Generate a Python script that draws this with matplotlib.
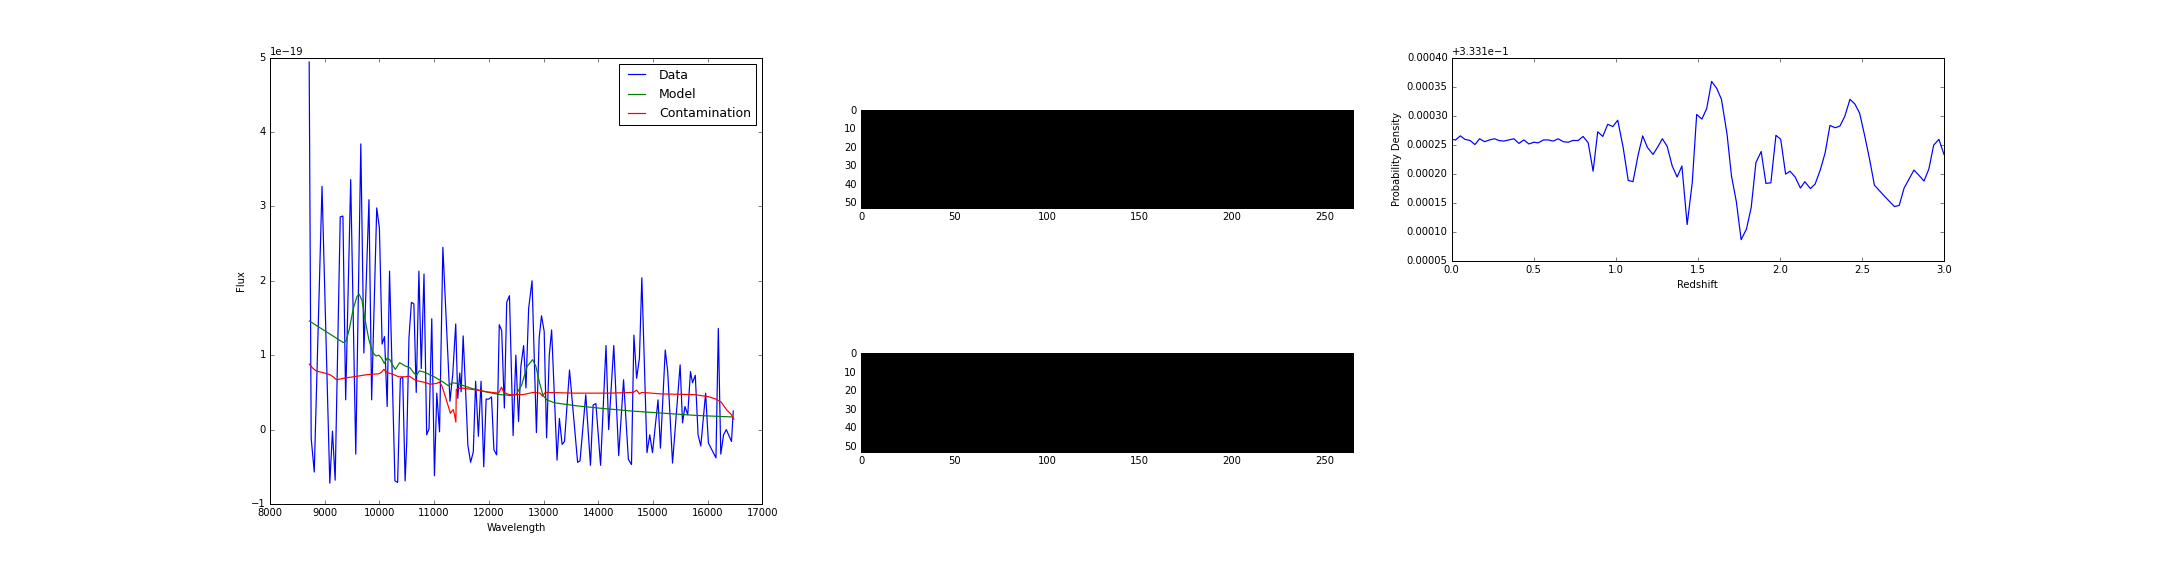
import matplotlib
matplotlib.use("Agg")
import matplotlib.pyplot as plt
import numpy as np

plt.style.use("classic")
plt.rcParams["font.size"] = 10
plt.rcParams["savefig.facecolor"] = "white"
plt.rcParams["figure.facecolor"] = "white"

# spectrum: wavelength (A) and flux (units of 1e-19)
data_wave = [8716, 8753, 8809, 8951, 9093, 9142, 9191, 9284, 9333, 9383,
             9475, 9568, 9660, 9716, 9809, 9858, 9951, 10000, 10049, 10093,
             10142, 10185, 10284, 10333, 10383, 10426, 10470, 10500, 10540, 10585,
             10630, 10673, 10722, 10765, 10815, 10864, 10907, 10957, 11006, 11049,
             11099, 11160, 11290, 11340, 11395, 11432, 11469, 11494, 11531, 11580,
             11617, 11667, 11716, 11759, 11809, 11858, 11907, 11951, 12000, 12049,
             12093, 12142, 12191, 12235, 12284, 12327, 12377, 12444, 12494, 12543,
             12586, 12636, 12679, 12728, 12790, 12870, 12920, 12963, 13012, 13056,
             13105, 13148, 13247, 13290, 13340, 13383, 13475, 13623, 13667, 13772,
             13858, 13907, 13957, 14043, 14142, 14191, 14284, 14374, 14463, 14551,
             14608, 14652, 14702, 14753, 14797, 14891, 14942, 14992, 15093, 15137,
             15225, 15270, 15358, 15497, 15541, 15585, 15636, 15686, 15724, 15774,
             15825, 15875, 15963, 16014, 16152, 16195, 16240, 16291, 16341, 16436,
             16468]
data_flux = [4.94, -0.12, -0.57, 3.27, -0.72, -0.02, -0.68, 2.86, 2.87, 0.40,
             3.36, -0.33, 3.84, 1.03, 3.09, 0.40, 2.98, 2.71, 1.15, 1.25,
             0.31, 2.13, -0.69, -0.71, 0.69, 0.70, -0.69, -0.16, 1.23, 1.71,
             1.69, 0.50, 2.13, 0.82, 2.09, -0.07, 0.01, 1.49, -0.62, 0.49,
             -0.03, 2.45, 0.38, 0.74, 1.42, 0.42, 0.76, 0.51, 1.26, 0.45,
             -0.21, -0.44, -0.30, 0.65, -0.09, 0.65, -0.50, 0.41, 0.41, 0.44,
             -0.27, -0.34, 1.41, 1.33, 0.29, 1.71, 1.80, -0.08, 1.00, 0.11,
             0.85, 1.13, 0.56, 1.63, 2.00, -0.04, 1.23, 1.53, 1.32, -0.11,
             1.00, 1.34, -0.41, 0.15, -0.20, -0.16, 0.80, -0.44, -0.42, 0.47,
             -0.48, 0.33, 0.35, -0.48, 1.13, 0.00, 1.13, -0.35, 0.67, -0.40,
             -0.47, 1.27, 0.69, 0.96, 2.04, -0.31, -0.07, -0.31, 0.40, -0.25,
             1.07, 0.78, -0.45, 0.87, 0.09, 0.31, 0.20, 0.78, 0.63, 0.73,
             -0.07, -0.22, 0.49, -0.18, -0.38, 1.36, -0.33, -0.07, 0.00, -0.16,
             0.25]

model_wave = [8719, 9340, 9390, 9450, 9520, 9590, 9630, 9680, 9750, 9810,
              9880, 9940, 9990, 10040, 10090, 10140, 10190, 10240, 10290, 10370,
              10460, 10560, 10630, 10680, 10730, 10830, 11000, 11140, 11260, 11330,
              11420, 11700, 12000, 12200, 12400, 12500, 12600, 12700, 12800, 12860,
              12930, 12990, 13060, 13200, 13600, 14000, 14600, 15200, 15800, 16460]
model_flux = [1.46, 1.17, 1.19, 1.35, 1.62, 1.79, 1.82, 1.74, 1.43, 1.20,
              1.03, 0.99, 1.00, 0.96, 0.89, 0.96, 0.94, 0.87, 0.81, 0.90,
              0.86, 0.83, 0.76, 0.73, 0.79, 0.77, 0.71, 0.65, 0.59, 0.63,
              0.62, 0.55, 0.50, 0.47, 0.46, 0.47, 0.60, 0.85, 0.94, 0.85,
              0.62, 0.46, 0.40, 0.36, 0.32, 0.29, 0.25, 0.22, 0.19, 0.17]

contam_wave = [8719, 8776, 8839, 8996, 9091, 9154, 9217, 9343, 9438, 9532,
               9784, 9992, 10037, 10081, 10131, 10257, 10352, 10478, 10541, 10667,
               10856, 10919, 11045, 11096, 11140, 11203, 11297, 11348, 11373, 11398,
               11405, 11487, 11802, 11928, 12054, 12180, 12231, 12275, 12369, 12622,
               12811, 12937, 12981, 13031, 13567, 14198, 14639, 14702, 14753, 14797,
               15144, 15774, 16026, 16152, 16247, 16342, 16436, 16480]
contam_flux = [0.88, 0.83, 0.79, 0.76, 0.74, 0.71, 0.67, 0.69, 0.70, 0.71,
               0.74, 0.75, 0.77, 0.81, 0.77, 0.74, 0.71, 0.71, 0.72, 0.66,
               0.63, 0.61, 0.62, 0.64, 0.59, 0.45, 0.22, 0.27, 0.20, 0.10,
               0.54, 0.56, 0.53, 0.51, 0.50, 0.49, 0.57, 0.50, 0.47, 0.47,
               0.50, 0.49, 0.45, 0.50, 0.49, 0.49, 0.50, 0.53, 0.48, 0.50,
               0.48, 0.47, 0.44, 0.41, 0.37, 0.27, 0.20, 0.14]

# redshift probability density (offset part, units of 1e-5, added to 0.3331)
pdf_z = [0.000, 0.024, 0.053, 0.081, 0.112, 0.142, 0.170, 0.201, 0.231, 0.262,
         0.288, 0.318, 0.349, 0.379, 0.410, 0.440, 0.471, 0.501, 0.527, 0.560,
         0.588, 0.619, 0.649, 0.680, 0.710, 0.738, 0.771, 0.801, 0.832, 0.862,
         0.890, 0.921, 0.951, 0.982, 1.012, 1.045, 1.076, 1.105, 1.137, 1.164,
         1.193, 1.227, 1.254, 1.284, 1.313, 1.344, 1.374, 1.403, 1.435, 1.466,
         1.493, 1.525, 1.554, 1.584, 1.615, 1.644, 1.678, 1.705, 1.735, 1.764,
         1.796, 1.825, 1.854, 1.886, 1.915, 1.945, 1.976, 2.005, 2.035, 2.062,
         2.093, 2.125, 2.152, 2.186, 2.215, 2.247, 2.276, 2.305, 2.337, 2.366,
         2.396, 2.427, 2.457, 2.486, 2.517, 2.547, 2.576, 2.608, 2.637, 2.671,
         2.698, 2.727, 2.757, 2.788, 2.817, 2.847, 2.878, 2.908, 2.937, 2.969,
         3.000]
pdf_offset = [25.9, 25.8, 26.5, 25.9, 25.7, 25.0, 26.0, 25.5, 25.8, 26.0,
              25.7, 25.6, 25.8, 26.0, 25.2, 25.8, 25.1, 25.4, 25.3, 25.8,
              25.8, 25.6, 26.0, 25.5, 25.4, 25.7, 25.7, 26.4, 25.3, 20.4,
              27.2, 26.4, 28.5, 28.1, 29.2, 24.5, 18.8, 18.6, 23.3, 26.5,
              24.5, 23.3, 24.5, 26.0, 24.7, 21.3, 19.4, 21.3, 11.2, 18.4,
              30.2, 29.4, 31.2, 35.9, 34.7, 32.8, 26.8, 19.6, 15.1, 8.6,
              10.4, 14.1, 21.9, 23.8, 18.3, 18.4, 26.6, 25.9, 19.9, 20.4,
              19.4, 17.5, 18.6, 17.4, 18.2, 20.7, 23.6, 28.3, 27.9, 28.2,
              29.9, 32.8, 32.0, 30.4, 26.5, 22.4, 18.0, 17.0, 16.1, 15.1,
              14.3, 14.5, 17.5, 19.1, 20.6, 19.7, 18.7, 20.8, 24.9, 25.9,
              23.3]
pdf_base = 0.3331

# 2D spectrum cutouts (blank)
img_rows, img_cols = 53, 266

fig = plt.figure(figsize=(30, 8), dpi=72)
fig.subplots_adjust(left=0.125, right=0.9, top=0.9, bottom=0.125,
                    wspace=0.2, hspace=0.2)

ax1 = fig.add_subplot(1, 3, 1)
ax1.plot(data_wave, np.array(data_flux) * 1e-19, "b-", lw=1.2, label="Data")
ax1.plot(model_wave, np.array(model_flux) * 1e-19, "g-", lw=1.2, label="Model")
ax1.plot(contam_wave, np.array(contam_flux) * 1e-19, "r-", lw=1.2,
         label="Contamination")
ax1.set_xlim(8000, 17000)
ax1.set_ylim(-1e-19, 5e-19)
ax1.set_xlabel("Wavelength")
ax1.set_ylabel("Flux")
ax1.legend(loc="upper right", fontsize=12.5)

blank = np.zeros((img_rows, img_cols))
for pos in (2, 5):
    ax = fig.add_subplot(2, 3, pos)
    ax.imshow(blank, cmap="gray", vmin=0, vmax=1, interpolation="nearest")
    ax.set_xticks([0, 50, 100, 150, 200, 250])
    ax.set_yticks([0, 10, 20, 30, 40, 50])

ax3 = fig.add_subplot(2, 3, 3)
ax3.plot(pdf_z, pdf_base + np.array(pdf_offset) * 1e-5, "b-", lw=1.2)
ax3.set_xlim(0, 3)
ax3.set_ylim(pdf_base + 5e-5, pdf_base + 40e-5)
ax3.set_yticks(pdf_base + np.arange(5, 41, 5) * 1e-5)
ax3.ticklabel_format(axis="y", useOffset=pdf_base)
ax3.set_xlabel("Redshift")
ax3.set_ylabel("Probability Density")

fig.savefig("out.png", dpi=72)
